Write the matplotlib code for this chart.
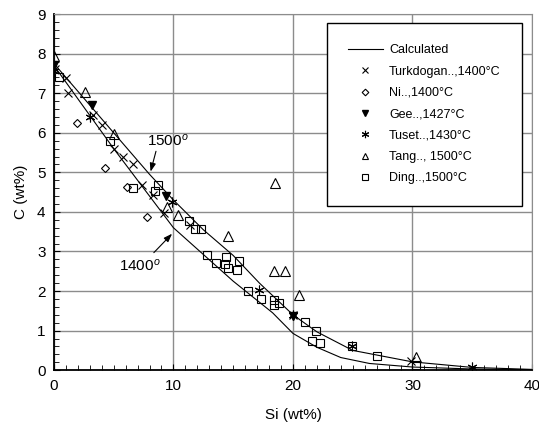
import matplotlib.pyplot as plt
from matplotlib.ticker import MultipleLocator

plt.rcParams['font.family'] = ['Liberation Sans', 'DejaVu Sans']
plt.rcParams['mathtext.fontset'] = 'custom'
plt.rcParams['mathtext.rm'] = 'Liberation Sans'
plt.rcParams['mathtext.it'] = 'Liberation Sans:italic'

# Calculated curves (Si wt%, C wt%)
si_1500 = [0, 5, 8, 10, 12.5, 15, 17.2, 20, 22, 25, 30, 35, 40]
c_1500 = [7.75, 6.0, 4.95, 4.3, 3.55, 2.9, 2.2, 1.4, 0.97, 0.5, 0.21, 0.07, 0.02]
si_1400 = [0, 5, 10, 15, 18.3, 20, 22, 24, 26.4, 30, 35, 40]
c_1400 = [7.7, 5.6, 3.6, 2.25, 1.45, 0.93, 0.58, 0.32, 0.17, 0.08, 0.03, 0.01]

# Experimental data
turk_si = [0.1, 1.0, 1.2, 3.3, 4.0, 5.0, 5.8, 6.6, 7.4, 8.3, 9.2, 11.4, 20.0, 29.9]
turk_c = [7.6, 7.38, 7.0, 6.45, 6.2, 5.6, 5.4, 5.22, 4.68, 4.42, 3.97, 3.67, 1.4, 0.22]
ni_si = [1.9, 4.3, 6.1, 7.8]
ni_c = [6.25, 5.12, 4.62, 3.86]
gee_si = [0.05, 3.2, 9.4, 20.0]
gee_c = [7.7, 6.7, 4.4, 1.38]
tuset_si = [0.05, 3.0, 9.9, 17.2, 20.0, 24.9, 35.0]
tuset_c = [7.55, 6.4, 4.25, 2.03, 1.4, 0.62, 0.07]
tang_si = [0.05, 2.6, 5.0, 9.5, 10.4, 14.6, 18.5, 18.4, 19.3, 20.5, 30.3]
tang_c = [7.95, 7.02, 5.98, 4.13, 3.92, 3.39, 4.72, 2.51, 2.51, 1.9, 0.34]
ding_si = [0.4, 4.7, 6.6, 8.5, 8.75, 11.3, 11.8, 12.3, 12.8, 13.6, 14.3, 14.4, 14.6,
           15.3, 15.5, 16.2, 17.3, 18.4, 18.4, 18.85, 21.05, 21.9, 21.6, 22.3, 24.9,
           27.0, 30.3]
ding_c = [7.42, 5.78, 4.6, 4.53, 4.68, 3.78, 3.58, 3.58, 2.9, 2.7, 2.68, 2.86, 2.57,
          2.54, 2.77, 2.0, 1.79, 1.78, 1.64, 1.7, 1.22, 0.99, 0.73, 0.69, 0.6,
          0.37, 0.12]

fig = plt.figure(figsize=(5.39, 4.26), dpi=100)
ax = fig.add_axes([0.100, 0.131, 0.887, 0.836])

ax.plot(si_1500, c_1500, color='black', lw=0.8, label='Calculated', zorder=3)
ax.plot(si_1400, c_1400, color='black', lw=0.8, zorder=3)

mk = dict(linestyle='none', color='black', mfc='none', mec='black', mew=0.8, zorder=4)
ax.plot(turk_si, turk_c, marker='x', ms=6, label='Turkdogan..,1400\u00b0C', **mk)
ax.plot(ni_si, ni_c, marker='D', ms=4.5, label='Ni..,1400\u00b0C', **mk)
ax.plot(gee_si, gee_c, marker='v', ms=6, linestyle='none', color='black',
        mfc='black', mec='black', zorder=4, label='Gee..,1427\u00b0C')
ax.plot(tuset_si, tuset_c, marker=(6, 2, 0), ms=7, label='Tuset..,1430\u00b0C', **mk)
ax.plot(tang_si, tang_c, marker='^', ms=6.5, label='Tang.., 1500\u00b0C', **mk)
ax.plot(ding_si, ding_c, marker='s', ms=6, label='Ding..,1500\u00b0C', **mk)

# curve labels with arrows
ax.text(9.55, 5.8, '$\\mathit{1500^o}$', fontsize=11, ha='center', va='center')
ax.annotate('', xy=(8.03, 4.95), xytext=(8.6, 5.6),
            arrowprops=dict(arrowstyle='-|>,head_length=0.5,head_width=0.18',
                            color='black', lw=0.8))
ax.text(7.2, 2.65, '$\\mathit{1400^o}$', fontsize=11, ha='center', va='center')
ax.annotate('', xy=(10.05, 3.5), xytext=(8.2, 2.92),
            arrowprops=dict(arrowstyle='-|>,head_length=0.5,head_width=0.18',
                            color='black', lw=0.8))

ax.set_xlim(0, 40)
ax.set_ylim(0, 9)
ax.xaxis.set_major_locator(MultipleLocator(10))
ax.xaxis.set_minor_locator(MultipleLocator(1))
ax.yaxis.set_major_locator(MultipleLocator(1))
ax.yaxis.set_minor_locator(MultipleLocator(0.2))
ax.tick_params(which='both', direction='in', labelsize=11, color='black')
ax.tick_params(which='major', length=4.5, pad=6)
ax.tick_params(which='minor', length=3.5)
ax.grid(True, which='major', color='#8c8c8c', lw=1)

for s in ['left', 'bottom']:
    ax.spines[s].set_linewidth(1.3)
for s in ['top', 'right']:
    ax.spines[s].set_color('#8c8c8c')

ax.set_xlabel('Si (wt%)', fontsize=11)
ax.set_ylabel('C (wt%)', fontsize=11)
ax.xaxis.set_label_coords(0.5, -0.107)
ax.yaxis.set_label_coords(-0.054, 0.5)

leg = ax.legend(loc='upper right', bbox_to_anchor=(0.979, 0.975), fontsize=9,
                fancybox=False, edgecolor='black', framealpha=1, borderpad=1.7,
                labelspacing=0.75, handlelength=2.8, handletextpad=0.5,
                borderaxespad=0, markerscale=0.75)
leg.get_frame().set_linewidth(1.0)

fig.savefig('out.png', dpi=100)
